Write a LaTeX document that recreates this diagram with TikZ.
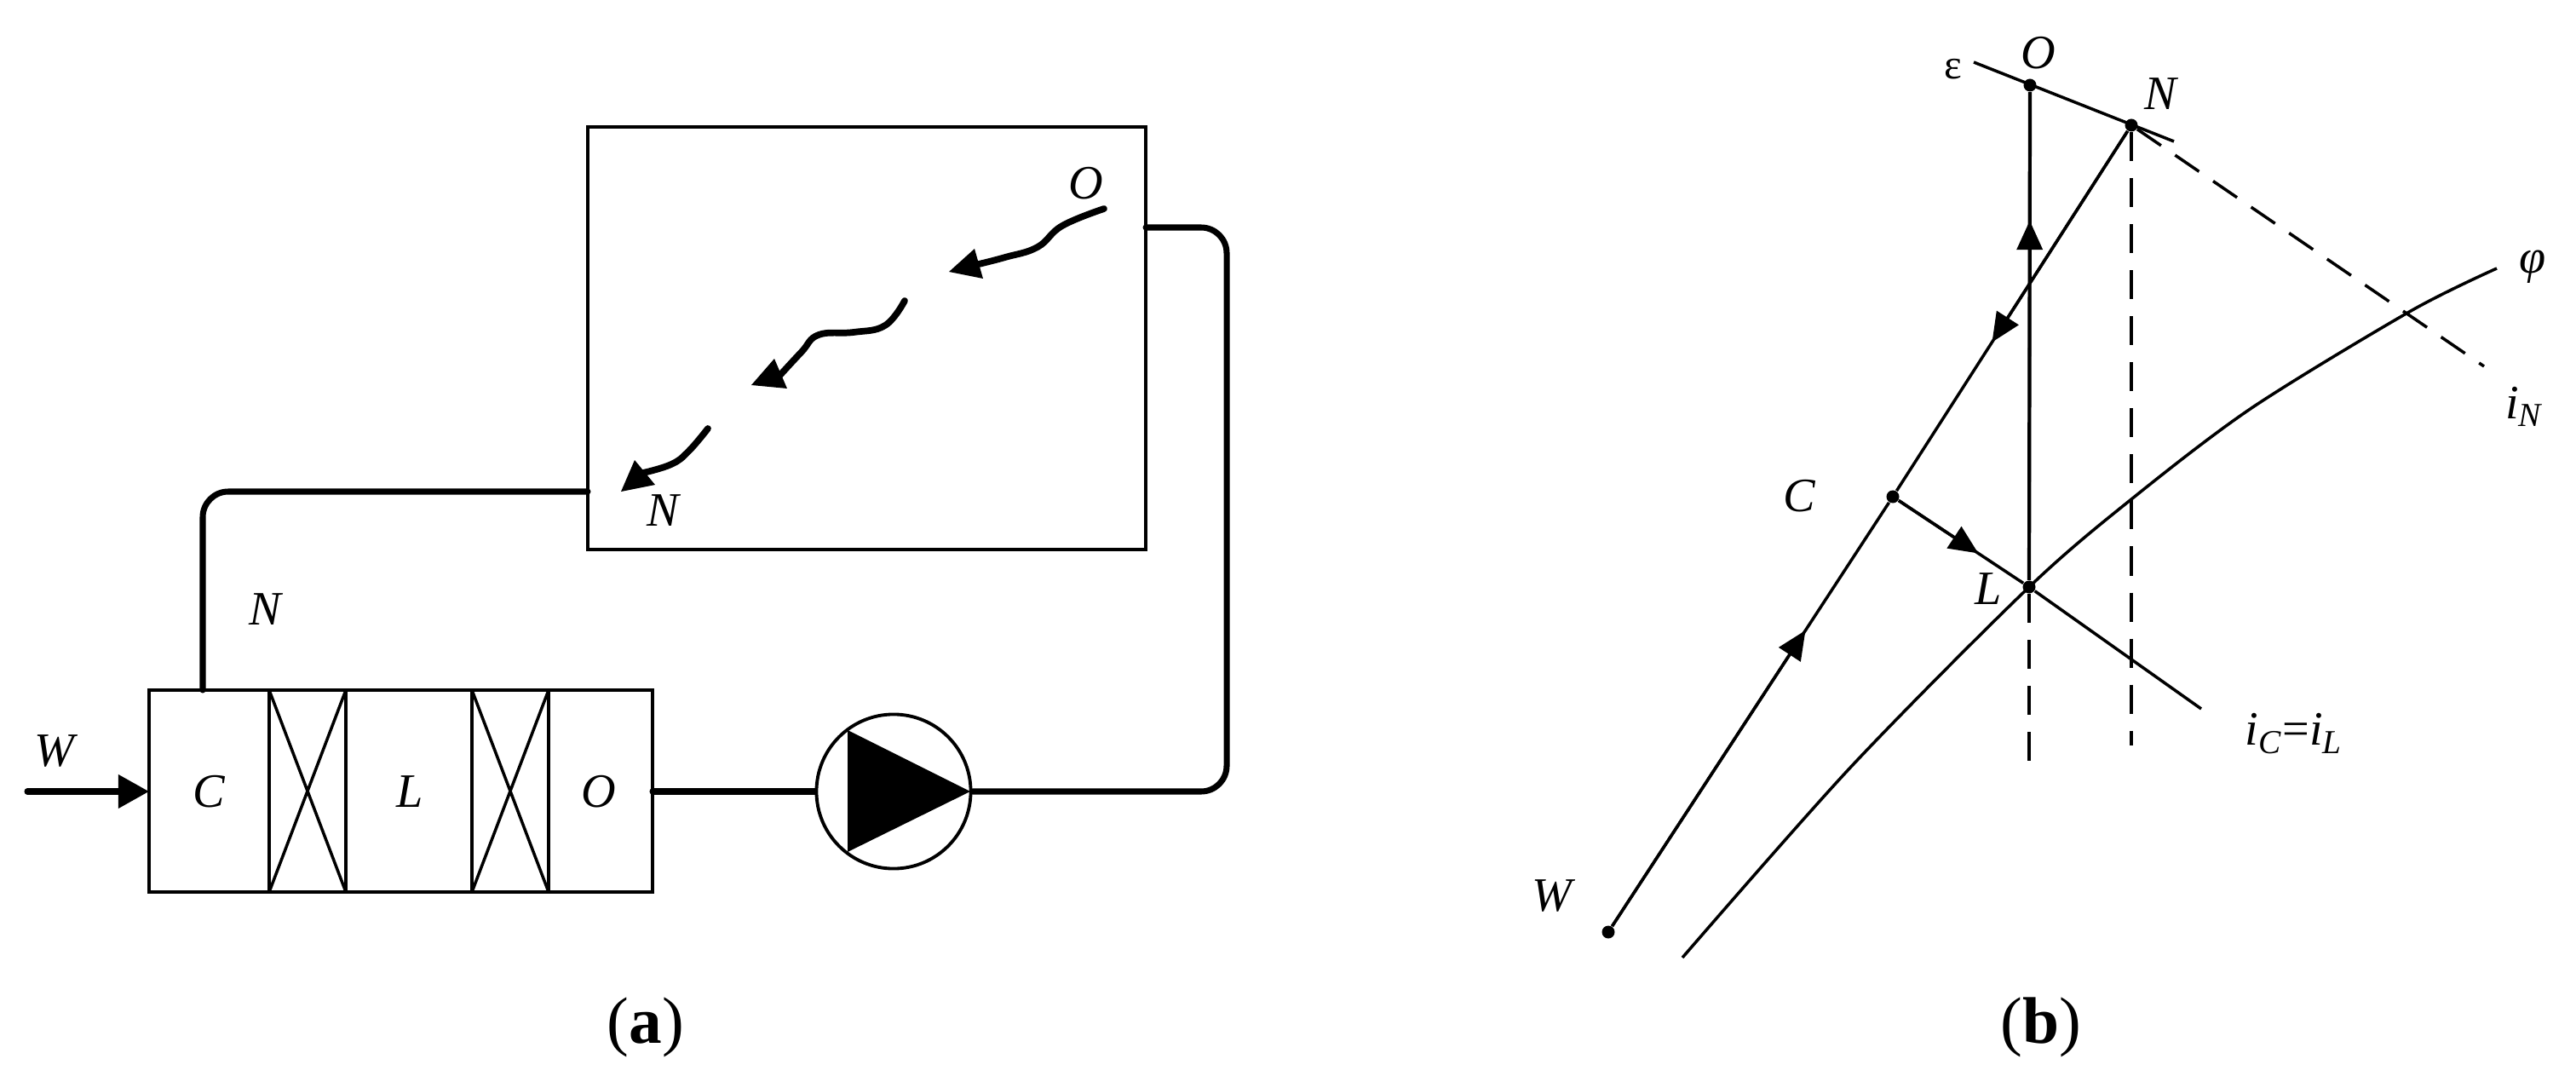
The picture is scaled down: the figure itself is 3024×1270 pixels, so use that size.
\documentclass[tikz,border=0pt]{standalone}
\usepackage{fontspec}
\setmainfont{Liberation Serif}
\usetikzlibrary{arrows.meta,calc}
\tikzset{
  lbl/.style={inner sep=0pt,font=\fontsize{16}{18}\selectfont\itshape},
  captxt/.style={inner sep=0pt,font=\fontsize{22}{24}\selectfont},
  thinline/.style={line width=1pt},
  pipe/.style={line width=2pt,line cap=round,rounded corners=0.3cm},
  wavy/.style={line width=2.2pt,line cap=round},
  midtip/.style={line width=1pt,-{Triangle[length=0.34cm,width=0.3cm]}},
  dashline/.style={line width=1pt,dash pattern=on 0.34cm off 0.2cm},
  dotpt/.style={circle,fill=black,inner sep=0pt,minimum size=0.15cm},
}
\begin{document}
\begin{tikzpicture}[x=0.01cm,y=-0.01cm]
\useasboundingbox (0,0) rectangle (3024,1270);
% scheme (a)
\coordinate (boxW) at (690,577);
\coordinate (boxE) at (1345,267);
\draw[thinline] (690,149) rectangle (1345,645);
\draw[thinline] (175,810) rectangle (766,1047);
\foreach \x in {316,406,554,644}{ \draw[thinline] (\x,810) -- (\x,1047); }
\foreach \x/\y in {316/406,554/644}{ \draw[thinline] (\x,810) -- (\y,1047); \draw[thinline] (\x,1047) -- (\y,810); }
\coordinate (coolN) at (238,810);
\coordinate (coolW) at (175,929);
\coordinate (coolE) at (766,929);
\coordinate (inW) at (32,929);
\node (pump) at (1049,929) [circle,draw,line width=1.1pt,minimum size=1.81cm,inner sep=0pt]{};
\fill (995,857) -- (1139,929) -- (995,1000) -- cycle;
\draw[pipe] (coolN) |- (boxW);
\draw[pipe] (boxE) -| (1440,929) -- (pump.east);
\draw[pipe] (coolE) -- (pump.west);
\draw[line width=2pt,line cap=round,-{Triangle[length=0.36cm,width=0.38cm]}] (inW) -- (coolW);
\draw[wavy] plot[smooth,tension=0.7] coordinates {(1296,245) (1247,265) (1218,290) (1180,302) (1149,310)};
\draw[wavy] plot[smooth,tension=0.7] coordinates {(1062,353) (1039,382) (1002,390) (961,393) (941,413) (916,440)};
\draw[wavy] plot[smooth,tension=0.7] coordinates {(831,503) (808,530) (788,545) (755,555)};
\foreach \a/\b/\c/\d/\e/\f in {1114/319/1144/292/1154/327,882/452/909/421/924/456,729/577/745/540/769/569}{ \fill (\a,\b) -- (\c,\d) -- (\e,\f) -- cycle; }
\node (aW) at (64,882) [lbl]{W};
\node (aC) at (245,929) [lbl]{C};
\node (aL) at (481,929) [lbl]{L};
\node (aO) at (703,929) [lbl]{O};
\node (aN) at (311,715) [lbl]{N};
\node (boxO) at (1275,215) [lbl]{O};
\node (boxN) at (778,599) [lbl]{N};
\node (capA) at (758,1206) [captxt]{(\textbf{a})};
% diagram (b)
\node (ptO) at (2383,100) [dotpt]{};
\node (ptN) at (2502,147) [dotpt]{};
\node (ptC) at (2222,583) [dotpt]{};
\node (ptL) at (2382,689) [dotpt]{};
\node (ptW) at (1888,1094) [dotpt]{};
\coordinate (epsA) at (2317,73);
\coordinate (epsB) at (2552,166);
\coordinate (endL) at (2382,895);
\coordinate (endN) at (2502,875);
\coordinate (endI) at (2916,430);
\coordinate (endC) at (2584,832);
\draw[thinline] (epsA) -- (epsB);
\draw[line width=1.2pt] (ptL) -- (ptO);
\draw[thinline] (ptW) -- (ptC) -- (ptN);
\draw[thinline] (ptC) -- (ptL) -- (endC);
\draw[midtip] (ptL) -- ($(ptL)!0.73!(ptO)$);
\draw[midtip] (ptN) -- ($(ptN)!0.584!(ptC)$);
\draw[midtip] (ptW) -- ($(ptW)!0.693!(ptC)$);
\draw[midtip] (ptC) -- ($(ptC)!0.627!(ptL)$);
\draw[dashline] (ptL) -- (endL);
\draw[dashline] (ptN) -- (endN);
\draw[dashline] (ptN) -- (endI);
\draw[thinline] plot[smooth,tension=0.5] coordinates {(1975,1124) (2172,901) (2382,689) (2502,586) (2643,479) (2830,365) (2931,315)};
\node (lblO) at (2393,62) [lbl]{O};
\node (lblN) at (2536,110) [lbl]{N};
\node (lblE) at (2293,81) [lbl,font=\fontsize{14}{16}\selectfont]{ε};
\node (lblF) at (2973,313) [lbl]{φ};
\node (lblI) at (2963,477) [lbl]{i\textsubscript{N}};
\node (lblC) at (2112,582) [lbl]{C};
\node (lblL) at (2334,691) [lbl]{L};
\node (lblCL) at (2693,861) [lbl]{i\textsubscript{C}{\upshape=}i\textsubscript{L}};
\node (lblW) at (1822,1051) [lbl]{W};
\node (capB) at (2396,1206) [captxt]{(\textbf{b})};
\end{tikzpicture}
\end{document}
